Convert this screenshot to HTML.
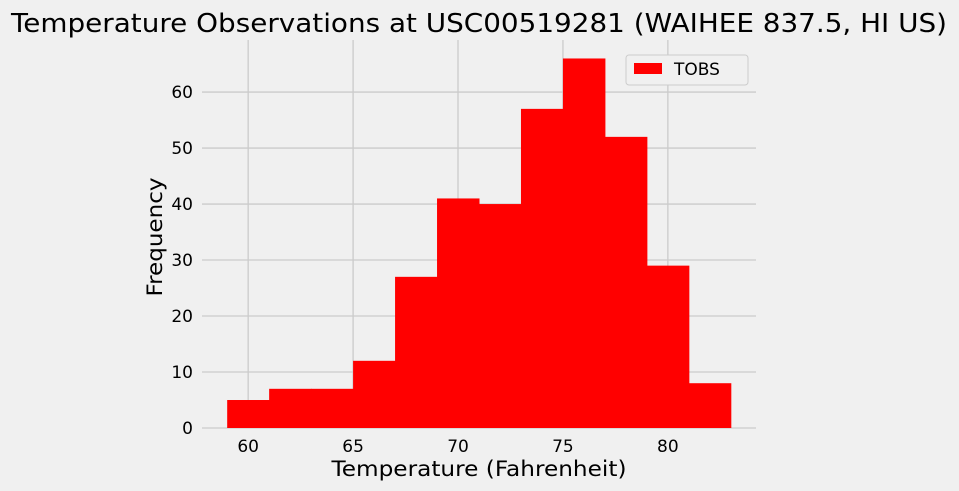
<!DOCTYPE html>
<html><head><meta charset="utf-8"><style>
html,body{margin:0;padding:0;background:#f0f0f0;}
svg{display:block;font-family:"DejaVu Sans","Liberation Sans",sans-serif;}
</style></head><body>
<svg id="chart" width="959" height="491" viewBox="0 0 959 491">
<rect width="959" height="491" fill="#f0f0f0"/>
<text x="479" y="32" font-size="26" text-anchor="middle" fill="#000" textLength="936" lengthAdjust="spacingAndGlyphs">Temperature Observations at USC00519281 (WAIHEE 837.5, HI US)</text>
<g id="grid"></g>
<g id="bars"></g>
<g id="xticks"></g>
<g id="yticks"></g>
<text x="479" y="476" font-size="21" text-anchor="middle" textLength="295" lengthAdjust="spacingAndGlyphs">Temperature (Fahrenheit)</text>
<text transform="translate(162,237) rotate(-90)" font-size="21" text-anchor="middle" textLength="119" lengthAdjust="spacingAndGlyphs">Frequency</text>
<g>
<rect x="626" y="55" width="122" height="30" rx="3" fill="#f0f0f0" stroke="#cccccc"/>
<rect x="634" y="63" width="28" height="11" fill="#ff0000"/>
<text x="674" y="75" font-size="17">TOBS</text>
</g>
</svg>
<script>
const binEdges=[59,61,63,65,67,69,71,73,75,77,79,81,83];
const counts=[5,7,7,12,27,41,40,57,66,52,29,8];
const xTicks=[60,65,70,75,80];
const yTicks=[0,10,20,30,40,50,60];
const NS="http://www.w3.org/2000/svg";
const xMin=57.8,xMax=84.2,yMin=0,yMax=69.3;
const L=202,R=756,T=40,B=428;
const xs=v=>L+(v-xMin)/(xMax-xMin)*(R-L);
const ys=v=>B-(v-yMin)/(yMax-yMin)*(B-T);
function mk(t,a,p){const e=document.createElementNS(NS,t);for(const k in a)e.setAttribute(k,a[k]);p.appendChild(e);return e;}
const grid=document.getElementById('grid'),bars=document.getElementById('bars'),xg=document.getElementById('xticks'),yg=document.getElementById('yticks');
xTicks.forEach(v=>{
 const l=mk('line',{x1:xs(v),x2:xs(v),y1:T,y2:B,stroke:'#cbcbcb','stroke-width':1.3},grid);
 
 
 const t=mk('text',{x:xs(v),y:B+24,'font-size':17,'text-anchor':'middle'},xg);
 t.textContent=v;
 
 
});
yTicks.forEach(v=>{
 const l=mk('line',{x1:L,x2:R,y1:ys(v),y2:ys(v),stroke:'#cbcbcb','stroke-width':1.3},grid);
 
 
 const t=mk('text',{x:L-9,y:ys(v)+6,'font-size':17,'text-anchor':'end'},yg);
 t.textContent=v;
 
 
});
counts.forEach((c,i)=>{
 const x0=xs(binEdges[i]),x1=xs(binEdges[i+1]);
 const r=mk('rect',{x:x0,y:ys(c),width:x1-x0+0.5,height:ys(0)-ys(c),fill:'#ff0000'},bars);
 
 
});
</script>
</body></html>
